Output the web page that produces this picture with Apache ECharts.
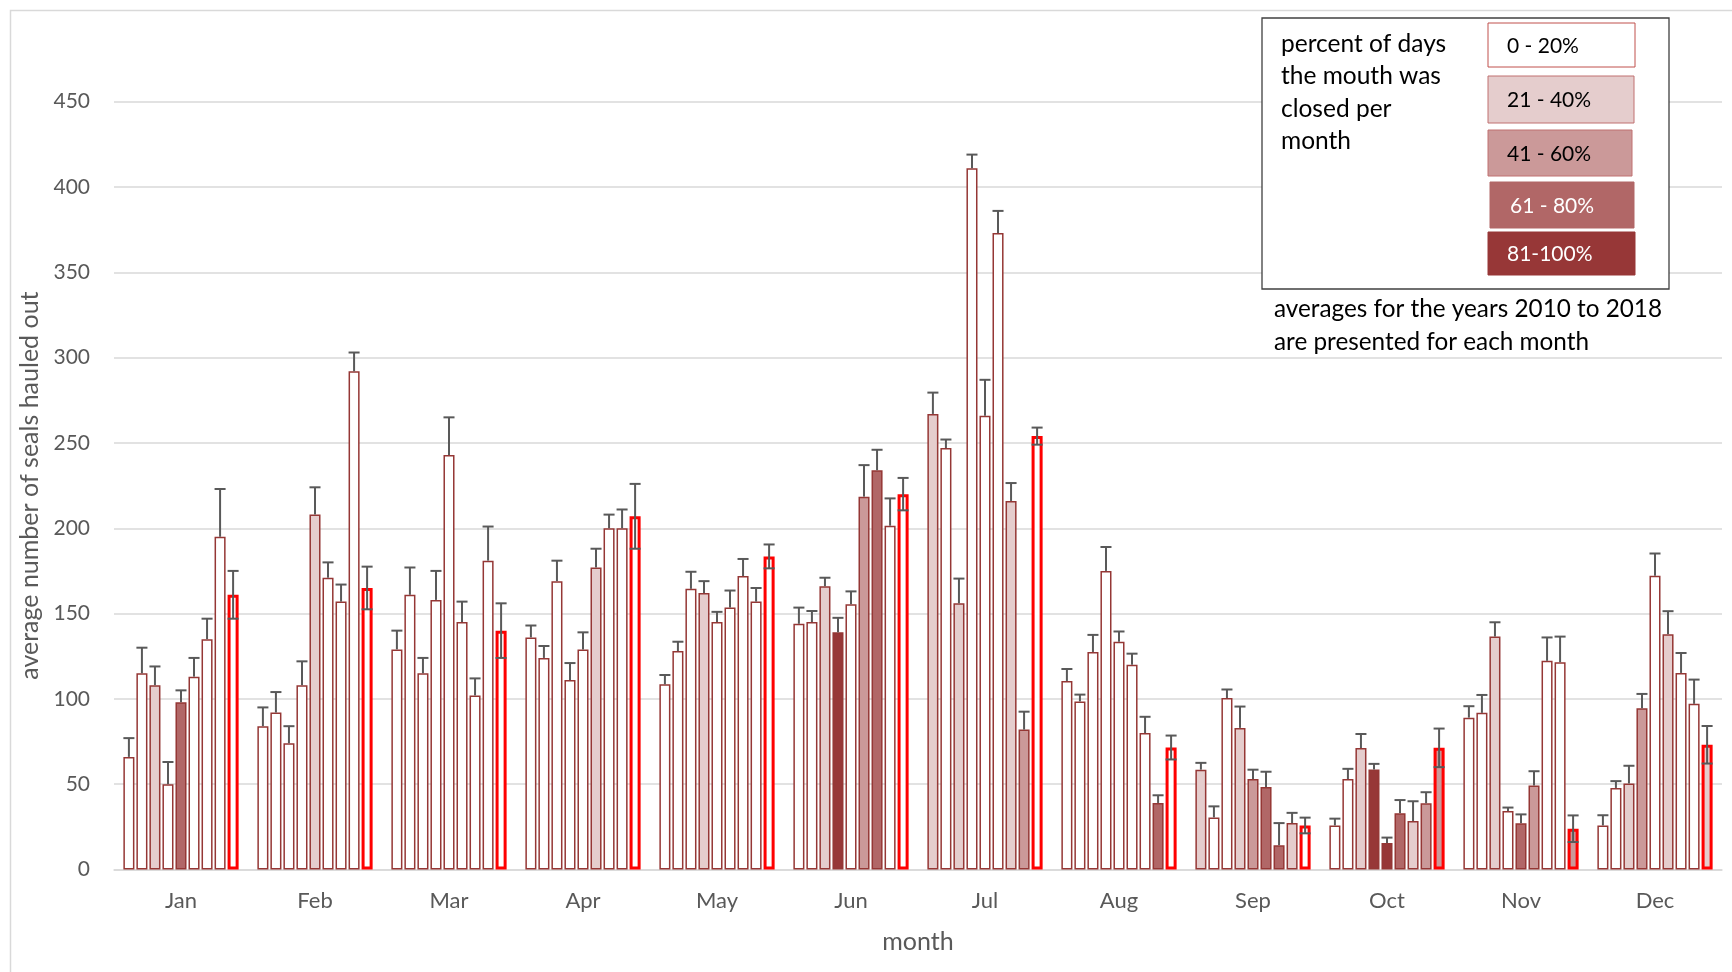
<!DOCTYPE html>
<html>
<head>
<meta charset="utf-8">
<script src="https://cdn.jsdelivr.net/npm/echarts@6/dist/echarts.min.js"></script>
<style>
html,body{margin:0;padding:0;background:#fff;}
#chart{width:1732px;height:972px;}
</style>
</head>
<body>
<div id="chart"></div>
<script>
// ---- data ----
const months = ['Jan','Feb','Mar','Apr','May','Jun','Jul','Aug','Sep','Oct','Nov','Dec'];
const years = ['2010','2011','2012','2013','2014','2015','2016','2017','2018'];
// average number of seals hauled out, per month (rows) and year 2010..2018 (columns)
const means = [
  [66, 115, 108, 50, 98, 113, 135, 195, 161],          // Jan
  [84, 92, 74, 108, 208, 171, 157, 292, 165],          // Feb
  [129, 161, 115, 158, 243, 145, 102, 181, 140],       // Mar
  [136, 124, 169, 111, 129, 177, 200, 200, 207],       // Apr
  [108.5, 128, 164.5, 162, 145, 153.5, 172, 157, 183.5], // May
  [144, 145, 166, 139, 155.5, 218.5, 234, 201.5, 220], // Jun
  [267, 247, 156, 411, 266, 373, 216, 82, 254],        // Jul
  [110.5, 98.5, 127.5, 175, 133.5, 120, 80, 39, 71.5], // Aug
  [58.5, 30.5, 100.5, 83, 53, 48.3, 14.2, 27.2, 25.8], // Sep
  [25.8, 53, 71.2, 58.6, 15.5, 33, 28.4, 38.8, 71.3],  // Oct
  [89, 91.8, 136.5, 34.3, 27.1, 49.2, 122.3, 121.5, 23.9], // Nov
  [25.8, 47.8, 50.4, 94.5, 172.2, 137.9, 115.2, 97.1, 73.1] // Dec
];
// error bar half-lengths
const errors = [
  [11, 15, 11, 13, 7, 11, 12, 28, 14],
  [11, 12, 10, 14, 16, 9, 10, 11, 12.5],
  [11, 16, 9, 17, 22, 12, 10, 20, 16],
  [7, 7, 12, 10, 10, 11, 8, 11, 19],
  [5.5, 5.5, 10, 7, 6, 10, 10, 8, 7],
  [9.5, 6.5, 5, 8.5, 7.5, 18.5, 12, 16, 9.5],
  [12.5, 5, 14.5, 8, 21, 13, 10.5, 10.5, 5],
  [7, 4, 10, 14, 6, 6.5, 9.5, 4.5, 7],
  [4, 6.5, 5, 12.5, 5.5, 9, 13, 6, 4.6],
  [4, 6, 8.2, 3.3, 3.2, 7.7, 11.6, 6.5, 11.3],
  [6.7, 10.5, 8.4, 2, 5.2, 8.4, 13.7, 15, 7.8],
  [6, 4, 10.4, 8.4, 13, 13.5, 11.7, 14.2, 11]
];
// closed-mouth class: 0 = 0-20%, 1 = 21-40%, 2 = 41-60%, 3 = 61-80%, 4 = 81-100%
const closedClass = [
  [0,0,1,0,3,0,0,0,0],
  [0,0,0,0,1,0,0,0,0],
  [0,0,0,0,0,0,0,0,0],
  [0,0,0,0,0,1,0,0,0],
  [0,0,0,1,0,0,0,0,0],
  [0,0,1,4,0,2,3,0,0],
  [1,0,1,0,0,0,1,2,0],
  [0,0,0,0,0,0,0,3,0],
  [1,0,0,1,2,3,3,1,0],
  [0,0,1,4,4,3,1,2,2],
  [0,0,1,0,3,2,0,0,2],
  [0,0,1,2,0,1,0,0,1]
];
const classLabels = ['0 - 20%','21 - 40%','41 - 60%','61 - 80%','81-100%'];
const noteLines = ['percent of days','the mouth was','closed per','month'];
const footLines = ['averages for the years 2010 to 2018','are presented for each month'];

// ---- style ----
const FONT = 'Lato';
const classFill = ['#ffffff','#e5cdcd','#cb9999','#b16767','#973737'];
const barBorder = '#953735';
const hiBorder = '#ff0000';
const CAT_GAP = 0.14, BAR_GAP = 0.18;

const chart = echarts.init(document.getElementById('chart'));

const barSeries = years.map((y, j) => ({
  type: 'bar',
  name: y,
  barGap: (BAR_GAP*100) + '%',
  barCategoryGap: (CAT_GAP*100) + '%',
  data: months.map((m, i) => ({
    value: means[i][j],
    itemStyle: { color: classFill[closedClass[i][j]] }
  })),
  itemStyle: {
    borderColor: j === years.length - 1 ? hiBorder : barBorder,
    borderWidth: j === years.length - 1 ? 3 : 1.5
  },
  emphasis: { disabled: true },
  z: j === years.length - 1 ? 3 : 2
}));

const errData = [];
months.forEach((m, i) => years.forEach((y, j) => {
  errData.push([i, j, means[i][j], errors[i][j]]);
}));

const errSeries = {
  type: 'custom',
  data: errData,
  encode: { x: 0, y: 2 },
  z: 10,
  silent: true,
  renderItem: function (params, api) {
    const i = api.value(0), j = api.value(1), m = api.value(2), e = api.value(3);
    const n = years.length;
    const bw = api.size([1, 0])[0];
    const usable = bw * (1 - CAT_GAP);
    const barW = usable / (n + (n - 1) * BAR_GAP);
    const cx = api.coord([i, 0])[0] - usable / 2 + j * barW * (1 + BAR_GAP) + barW / 2;
    const top = api.coord([i, m + e])[1];
    const mid = api.coord([i, m])[1];
    const both = j === n - 1;
    const bot = both ? api.coord([i, m - e])[1] : mid;
    const half = barW / 2;
    const st = { stroke: '#595959', lineWidth: 2 };
    const ch = [
      { type: 'line', shape: { x1: cx, y1: top, x2: cx, y2: bot }, style: st },
      { type: 'line', shape: { x1: cx - half, y1: top, x2: cx + half, y2: top }, style: st }
    ];
    if (both) ch.push({ type: 'line', shape: { x1: cx - half, y1: bot, x2: cx + half, y2: bot }, style: st });
    return { type: 'group', children: ch };
  }
};

// legend graphics
const gfx = [
  { type: 'rect', left: 8, top: 8, shape: { width: 1740, height: 990 }, style: { fill: 'none', stroke: '#d9d9d9', lineWidth: 1.5 }, z: 0, silent: true },
  { type: 'rect', shape: { x: 1262, y: 18, width: 407, height: 271 }, style: { fill: '#ffffff', stroke: '#404040', lineWidth: 1.3 }, z: 20 }
];
noteLines.forEach((t, k) => gfx.push({
  type: 'text', x: 1281, y: 44 + k * 32.5, z: 21,
  style: { text: t, font: '24.5px ' + FONT, fill: '#000000', verticalAlign: 'middle', align: 'left' }
}));
const sw = [
  { x: 1488, y: 23, w: 147, h: 44 },
  { x: 1488, y: 76, w: 146, h: 47 },
  { x: 1488, y: 130, w: 144, h: 46 },
  { x: 1490, y: 182, w: 144, h: 46 },
  { x: 1488, y: 232, w: 147, h: 43 }
];
classLabels.forEach((t, k) => {
  const s = sw[k];
  gfx.push({ type: 'rect', shape: { x: s.x, y: s.y, width: s.w, height: s.h }, z: 21,
    style: { fill: classFill[k], stroke: k === 0 ? '#c0504d' : (k < 3 ? '#c07070' : classFill[k]), lineWidth: 1 } });
  gfx.push({ type: 'text', x: k === 3 ? 1510 : 1507, y: s.y + s.h / 2 + 1, z: 22,
    style: { text: t, font: '21px ' + FONT, fill: k >= 3 ? '#ffffff' : '#000000', verticalAlign: 'middle', align: 'left' } });
});
footLines.forEach((t, k) => gfx.push({
  type: 'text', x: 1274, y: 309 + k * 33, z: 21,
  style: { text: t, font: '24.3px ' + FONT, fill: '#000000', verticalAlign: 'middle', align: 'left' }
}));

chart.setOption({
  animation: false,
  textStyle: { fontFamily: FONT },
  grid: { left: 114, right: 10, top: 101.7, bottom: 102.5, containLabel: false },
  xAxis: {
    type: 'category',
    data: months,
    name: 'month',
    nameLocation: 'middle',
    nameGap: 60,
    nameTextStyle: { fontSize: 25, color: '#595959', fontFamily: FONT },
    axisLine: { show: true, lineStyle: { color: '#d9d9d9', width: 1.5 } },
    axisTick: { show: false },
    axisLabel: { fontSize: 22, color: '#595959', margin: 20, fontFamily: FONT }
  },
  yAxis: {
    type: 'value',
    min: 0, max: 450, interval: 50,
    name: 'average number of seals hauled out',
    nameLocation: 'middle',
    nameGap: 70,
    nameTextStyle: { fontSize: 25, color: '#595959', fontFamily: FONT },
    axisLine: { show: false },
    axisTick: { show: false },
    axisLabel: { fontSize: 21, color: '#595959', margin: 24, fontFamily: FONT },
    splitLine: { lineStyle: { color: '#d9d9d9', width: 1.5 } }
  },
  graphic: gfx,
  series: [...barSeries, errSeries]
});
</script>
</body>
</html>
